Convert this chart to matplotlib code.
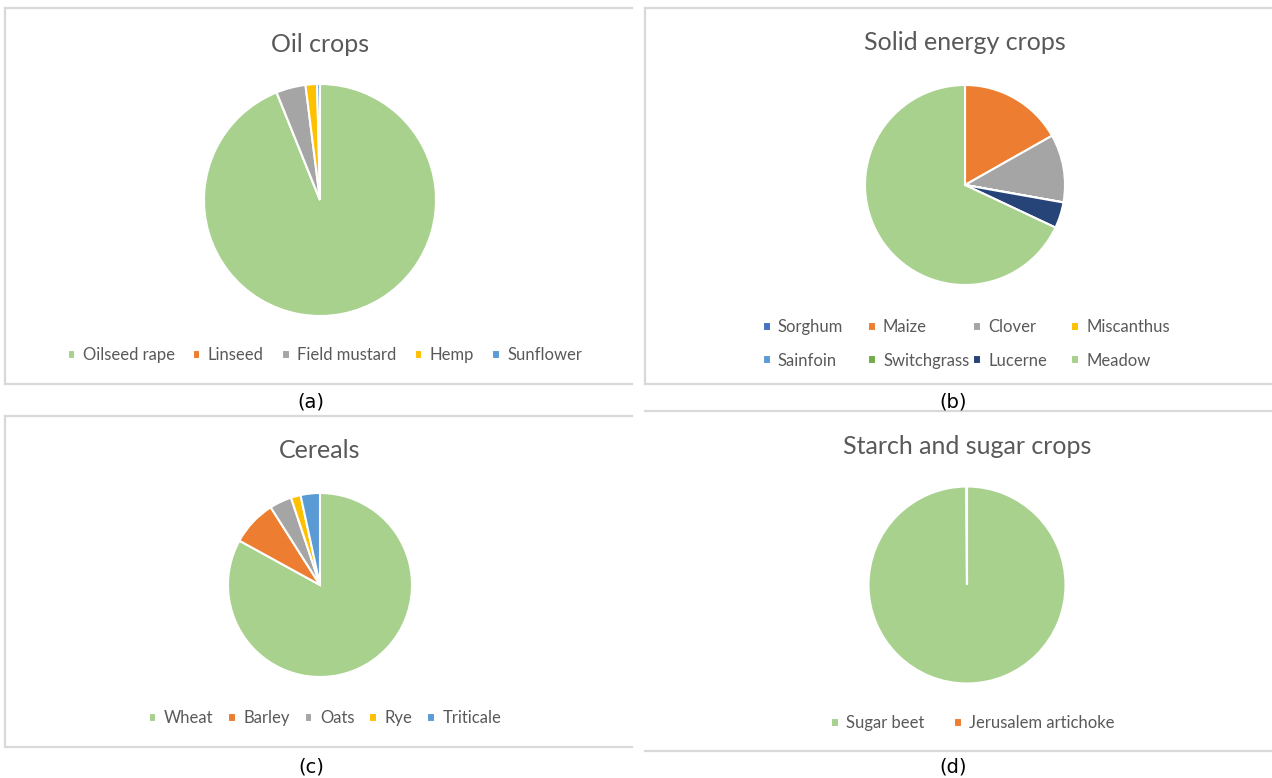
import matplotlib
matplotlib.use("Agg")
import matplotlib.pyplot as plt
from matplotlib.lines import Line2D

plt.rcParams['font.family'] = ['Lato', 'DejaVu Sans']

# ---- data -------------------------------------------------------------
oil_labels = ['Oilseed rape', 'Linseed', 'Field mustard', 'Hemp', 'Sunflower']
oil_values = [93.9, 0.0, 4.1, 1.6, 0.4]

solid_labels = ['Sorghum', 'Maize', 'Clover', 'Miscanthus',
                'Sainfoin', 'Switchgrass', 'Lucerne', 'Meadow']
solid_values = [0.0, 16.8, 11.0, 0.0, 0.0, 0.0, 4.2, 68.0]

cereal_labels = ['Wheat', 'Barley', 'Oats', 'Rye', 'Triticale']
cereal_values = [83.0, 8.0, 3.9, 1.7, 3.4]

starch_labels = ['Sugar beet', 'Jerusalem artichoke']
starch_values = [99.9, 0.1]

# ---- styling ----------------------------------------------------------
GREEN = '#A9D18E'
ORANGE = '#ED7D31'
GREY = '#A5A5A5'
GOLD = '#FFC000'
BLUE = '#4472C4'
LBLUE = '#5B9BD5'
DGREEN = '#70AD47'
NAVY = '#264478'
TEXT = '#595959'
FRAME = '#D9D9D9'

oil_colors = [GREEN, ORANGE, GREY, GOLD, LBLUE]
solid_colors = [BLUE, ORANGE, GREY, GOLD, LBLUE, DGREEN, NAVY, GREEN]
cereal_colors = [GREEN, ORANGE, GREY, GOLD, LBLUE]
starch_colors = [GREEN, ORANGE]

W, H = 1272, 778
fig = plt.figure(figsize=(W / 100, H / 100), dpi=100)
fig.patch.set_facecolor('white')


def fx(x):
    return x / W


def fy(y):
    return 1 - y / H


def frame(x0, y0, x1, y1, left=True):
    kw = dict(color=FRAME, lw=1.6, transform=fig.transFigure)
    fig.add_artist(Line2D([fx(x0), fx(x1)], [fy(y0), fy(y0)], **kw))
    fig.add_artist(Line2D([fx(x0), fx(x1)], [fy(y1), fy(y1)], **kw))
    if left:
        fig.add_artist(Line2D([fx(x0), fx(x0)], [fy(y0), fy(y1)], **kw))


def pie_panel(cx, cy, r, values, colors):
    ax = fig.add_axes([fx(cx - r), fy(cy + r), 2 * r / W, 2 * r / H])
    wedges, _ = ax.pie(values, colors=colors, startangle=90, counterclock=False,
                       radius=1, wedgeprops=dict(edgecolor='white', linewidth=1.5))
    for w in wedges:
        w.set_clip_on(False)
    ax.set_xlim(-1, 1)
    ax.set_ylim(-1, 1)
    ax.set_aspect('equal')
    ax.axis('off')
    return wedges


LEG_KW = dict(frameon=False, fontsize=12, labelcolor=TEXT,
              handlelength=0.45, handleheight=0.45, handletextpad=0.45,
              borderpad=0, borderaxespad=0)


def legend(handles, labels, cx, cy, ncol, colspacing=1.0):
    fig.legend(handles, labels, loc='center', bbox_to_anchor=(fx(cx), fy(cy)),
               ncol=ncol, columnspacing=colspacing, **LEG_KW)


def legend_column(handles, labels, x, cy, labelspacing=1.1):
    fig.legend(handles, labels, loc='center left', bbox_to_anchor=(fx(x), fy(cy)),
               ncol=1, labelspacing=labelspacing, **LEG_KW)


# panel frames
frame(5, 8, 632, 384)
frame(645, 8, 1290, 384)
frame(5, 416, 632, 747)
frame(645, 411, 1290, 751, left=False)

# titles
title_kw = dict(ha='center', va='center', fontsize=18, color=TEXT)
fig.text(fx(320), fy(44), 'Oil crops', **title_kw)
fig.text(fx(965), fy(43), 'Solid energy crops', **title_kw)
fig.text(fx(320), fy(451), 'Cereals', **title_kw)
fig.text(fx(967), fy(446), 'Starch and sugar crops', **title_kw)

# sub-figure letters
tag_kw = dict(ha='center', va='center', fontsize=14, color='black',
              family=['DejaVu Sans'])
fig.text(fx(311), fy(402), '(a)', **tag_kw)
fig.text(fx(953), fy(402), '(b)', **tag_kw)
fig.text(fx(311), fy(767), '(c)', **tag_kw)
fig.text(fx(953), fy(767), '(d)', **tag_kw)

# pies
w_oil = pie_panel(320, 200, 116, oil_values, oil_colors)
w_solid = pie_panel(965, 185, 100, solid_values, solid_colors)
w_cer = pie_panel(320, 585, 92, cereal_values, cereal_colors)
w_st = pie_panel(967, 585, 98.5, starch_values, starch_colors)

# legends
legend(w_oil, oil_labels, 325, 355, ncol=5, colspacing=1.1)
# two-row legend laid out column by column
for col, x in enumerate([763, 868, 973, 1071]):
    idx = [col, col + 4]
    legend_column([w_solid[i] for i in idx], [solid_labels[i] for i in idx],
                  x, 344, labelspacing=1.05)
legend(w_cer, cereal_labels, 325, 718, ncol=5, colspacing=0.9)
legend(w_st, starch_labels, 973, 723, ncol=2, colspacing=1.8)

fig.savefig('out.png', dpi=100, facecolor='white')
